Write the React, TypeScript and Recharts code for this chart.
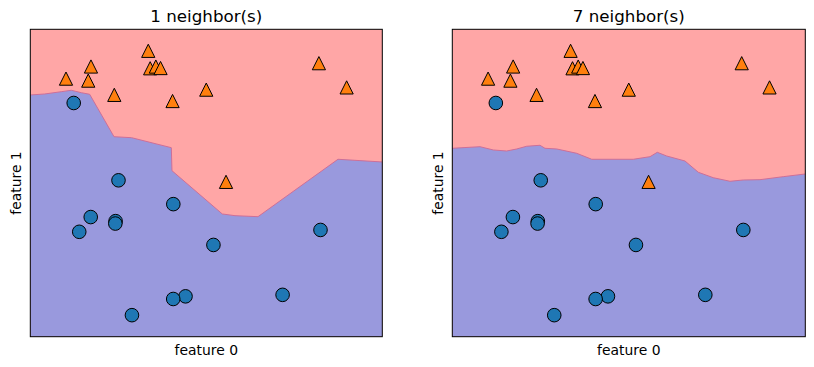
import { ComposedChart, Area, Scatter, XAxis, YAxis, CartesianGrid } from "recharts";

// forge dataset
const feature0 = [
  9.96346605, 11.0329545, 11.54155807, 8.69289001, 8.1062269, 8.30988863, 11.93027136,
  9.67284681, 8.34810316, 8.67494727, 9.17748385, 10.24028948, 8.68937095, 8.92229526,
  9.49123469, 9.25694192, 7.99815287, 8.18378052, 8.7337095, 9.32298256, 10.06393839,
  9.50048972, 8.34468785, 9.50169345, 9.15072323, 11.563957,
];
const feature1 = [
  4.59676542, -0.16816717, 5.21116083, 1.54322016, 4.28695977, 4.80623966, 4.64866327,
  -0.20283165, 5.13415623, 4.47573059, 5.09283177, 2.45544401, 1.48709629, -0.63993225,
  4.33224792, 5.13284858, 4.8525051, 1.29564214, 2.49162431, 5.09840649, 0.99078055,
  -0.26430318, 1.63824349, 1.93824624, 5.49832246, 1.3389402,
];
const labels = [1, 0, 1, 0, 0, 1, 1, 0, 1, 1, 1, 1, 0, 0, 1, 1, 1, 0, 0, 1, 0, 0, 0, 0, 1, 0];

const xDomain = [7.498, 12.43];
const yDomain = [-1.14, 5.998];

// decision boundary: [feature 0, feature 1]
const boundary1 = [
  [7.498, 4.473], [7.7, 4.496], [7.932, 4.549], [8.072, 4.582], [8.213, 4.526], [8.33, 4.489],
  [8.671, 3.504], [8.917, 3.481], [9.474, 3.249], [9.483, 2.715], [10.188, 1.71],
  [10.366, 1.67], [10.688, 1.647], [11.809, 2.98], [12.43, 2.917],
];
const boundary7 = [
  [7.498, 3.235], [7.885, 3.272], [8.071, 3.196], [8.258, 3.172], [8.398, 3.219], [8.537, 3.282],
  [8.723, 3.305], [8.793, 3.235], [8.957, 3.219], [9.236, 3.119], [9.446, 2.98], [10.027, 2.98],
  [10.26, 3.04], [10.362, 3.142], [10.493, 3.056], [10.749, 2.94], [10.935, 2.678],
  [11.144, 2.552], [11.378, 2.469], [11.563, 2.499], [11.797, 2.506], [12.122, 2.576],
  [12.43, 2.638],
];

const points = feature0.map((x, i) => ({ x, y: feature1[i], c: labels[i] }));
const class0 = points.filter((p) => p.c === 0);
const class1 = points.filter((p) => p.c === 1);

const CircleMark = (props: any) => (
  <circle cx={props.cx} cy={props.cy} r={6.8} fill="#1f77b4" stroke="#000" strokeWidth={1} />
);

const TriangleMark = (props: any) => {
  const { cx, cy } = props;
  const s = 6.6;
  return (
    <path
      d={`M${cx},${cy - s} L${cx - s},${cy + s} L${cx + s},${cy + s} Z`}
      fill="#ff7f0e"
      stroke="#000"
      strokeWidth={1}
      strokeLinejoin="miter"
    />
  );
};

function Panel({ boundary, left, right }: { boundary: number[][]; left: number; right: number }) {
  const data = boundary.map(([x, y]) => ({ x, y }));
  return (
    <div style={{ position: "absolute", left, top: 0 }}>
      <ComposedChart
        width={400}
        height={367}
        data={data}
        margin={{ top: 29.3, left: 30.3, right, bottom: 30.3 }}
      >
        <CartesianGrid horizontal={false} vertical={false} fill="#ffa6a6" fillOpacity={1} />
        <XAxis type="number" dataKey="x" domain={xDomain} allowDataOverflow hide />
        <YAxis type="number" dataKey="y" domain={yDomain} allowDataOverflow hide />
        <Area
          type="linear"
          dataKey="y"
          baseValue="dataMin"
          fill="#9999dd"
          fillOpacity={1}
          stroke="#cc6f98"
          strokeWidth={1}
          dot={false}
          activeDot={false}
          isAnimationActive={false}
        />
        <Scatter data={class0} shape={CircleMark} isAnimationActive={false} />
        <Scatter data={class1} shape={TriangleMark} isAnimationActive={false} />
      </ComposedChart>
    </div>
  );
}

const font = "'DejaVu Sans', sans-serif";

export default function App() {
  return (
    <div style={{ position: "absolute", left: 0, top: 0, width: 814, height: 367, background: "#fff" }}>
      <Panel boundary={boundary1} left={0} right={17.7} />
      <Panel boundary={boundary7} left={422} right={16.7} />
      <svg
        width={814}
        height={367}
        style={{ position: "absolute", left: 0, top: 0, pointerEvents: "none" }}
        fontFamily={font}
      >
        <rect x={30.3} y={29.3} width={352} height={307.4} fill="none" stroke="#000" strokeWidth={1} />
        <rect x={452.3} y={29.3} width={353} height={307.4} fill="none" stroke="#000" strokeWidth={1} />
        <text x={206.3} y={21.5} textAnchor="middle" fontSize={16.7}>1 neighbor(s)</text>
        <text x={628.8} y={21.5} textAnchor="middle" fontSize={16.7}>7 neighbor(s)</text>
        <text x={206.3} y={355} textAnchor="middle" fontSize={13.9}>feature 0</text>
        <text x={628.8} y={355} textAnchor="middle" fontSize={13.9}>feature 0</text>
        <text x={20.7} y={183} textAnchor="middle" fontSize={13.9} transform="rotate(-90, 20.7, 183)">feature 1</text>
        <text x={442.7} y={183} textAnchor="middle" fontSize={13.9} transform="rotate(-90, 442.7, 183)">feature 1</text>
      </svg>
    </div>
  );
}
